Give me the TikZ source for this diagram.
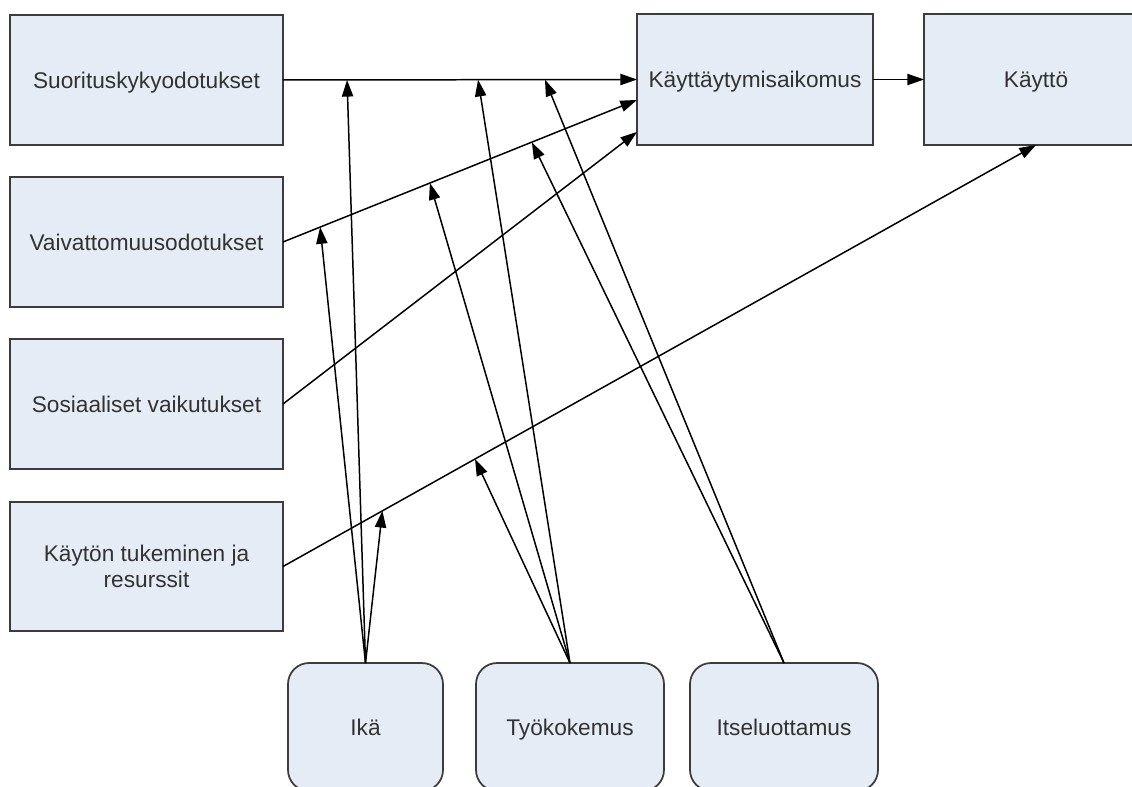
\documentclass[tikz,border=0pt]{standalone}
\usepackage{fontspec}
\setmainfont{Liberation Sans}
\usetikzlibrary{arrows.meta,calc}

\definecolor{boxfill}{RGB}{230,236,246}
\definecolor{boxline}{RGB}{60,60,60}
\definecolor{boxtext}{RGB}{50,50,50}

\tikzset{
  factor/.style={draw=boxline, fill=boxfill, line width=1pt, rectangle,
    outer sep=0pt, inner sep=2pt, align=center, text=boxtext,
    font=\fontsize{12.9}{15}\selectfont},
  oneline/.style={text height=9.2pt, text depth=0pt},
  moderator/.style={factor, oneline, rounded corners=0.42cm},
  arr/.style={draw=black, line width=0.85pt,
    -{Triangle[length=9.5pt,width=6.4pt]}},
}

\begin{document}
\begin{tikzpicture}[x=0.02cm, y=-0.02cm]
\clip (0,0) rectangle (1132,787);
\fill[white] (0,0) rectangle (1132,787);

% predictors
\node[factor, oneline, minimum width=5.46cm, minimum height=2.6cm] (suor) at (146.5,80) {Suorituskykyodotukset};
\node[factor, oneline, minimum width=5.46cm, minimum height=2.6cm] (vaiv) at (146.5,242) {Vaivattomuusodotukset};
\node[factor, oneline, minimum width=5.46cm, minimum height=2.6cm] (sos) at (146.5,404) {Sosiaaliset vaikutukset};
\node[factor, minimum width=5.46cm, minimum height=2.58cm] (tuki) at (146.5,566.5) {Käytön tukeminen ja\\resurssit};

% outcomes
\node[factor, oneline, minimum width=4.72cm, minimum height=2.62cm] (aik) at (755,79.5) {Käyttäytymisaikomus};
\node[factor, oneline, minimum width=4.48cm, minimum height=2.62cm] (kaytto) at (1036,79.5) {Käyttö};

% moderators
\node[moderator, minimum width=3.1cm, minimum height=2.56cm] (ika) at (365.5,727) {Ikä};
\node[moderator, minimum width=3.76cm, minimum height=2.56cm] (tyo) at (570,727) {Työkokemus};
\node[moderator, minimum width=3.76cm, minimum height=2.56cm] (itse) at (784,727) {Itseluottamus};

% entry points on the intention box
\coordinate (aikA) at (aik.west);
\coordinate (aikB) at ($(aik.north west)!0.656!(aik.south west)$);
\coordinate (aikC) at ($(aik.north west)!0.90!(aik.south west)$);

% main paths
\draw[arr] (suor.east) -- (aikA);
\draw[arr] (vaiv.east) -- (aikB);
\draw[arr] (sos.east) -- (aikC);
\draw[arr] (tuki.east) -- (kaytto.south);
\draw[arr] (aik.east) -- (kaytto.west);

% moderating points on the main paths
\coordinate (p1) at ($(suor.east)!0.181!(aikA)$);
\coordinate (p2) at ($(suor.east)!0.551!(aikA)$);
\coordinate (p3) at ($(suor.east)!0.740!(aikA)$);
\coordinate (q1) at ($(vaiv.east)!0.105!(aikB)$);
\coordinate (q2) at ($(vaiv.east)!0.415!(aikB)$);
\coordinate (q3) at ($(vaiv.east)!0.703!(aikB)$);
\coordinate (r1) at ($(tuki.east)!0.132!(kaytto.south)$);
\coordinate (r2) at ($(tuki.east)!0.255!(kaytto.south)$);

% moderator effects
\draw[arr] (ika.north) -- (p1);
\draw[arr] (ika.north) -- (q1);
\draw[arr] (ika.north) -- (r1);
\draw[arr] (tyo.north) -- (p2);
\draw[arr] (tyo.north) -- (q2);
\draw[arr] (tyo.north) -- (r2);
\draw[arr] (itse.north) -- (p3);
\draw[arr] (itse.north) -- (q3);
\end{tikzpicture}
\end{document}
